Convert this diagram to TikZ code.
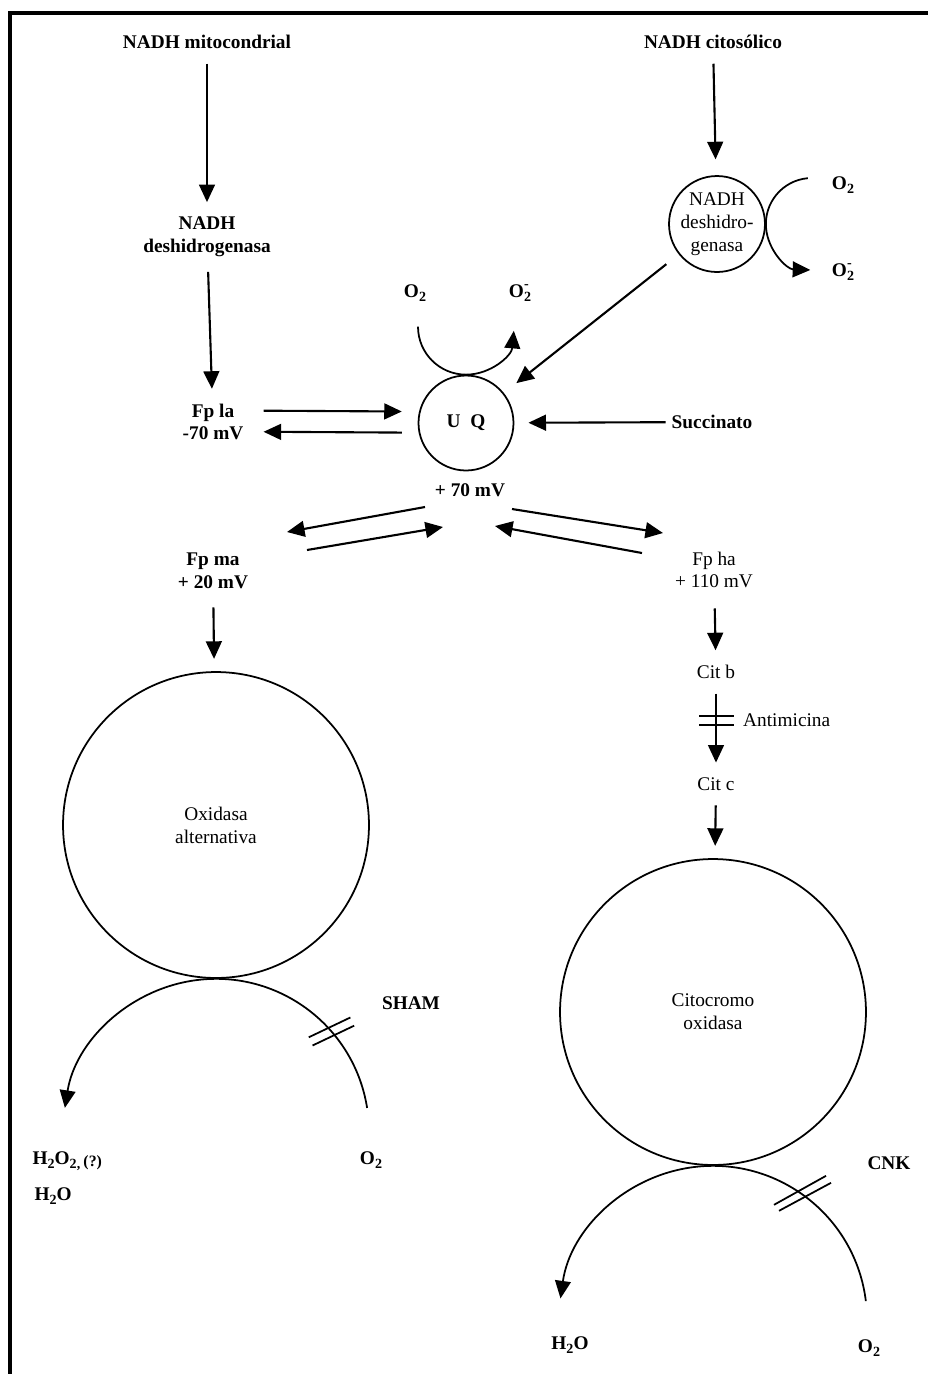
\documentclass[tikz,border=0pt]{standalone}
\usepackage{fontspec}
\setmainfont{Liberation Serif}
\usetikzlibrary{arrows.meta,positioning,calc}

\newcommand{\sbd}[1]{\raisebox{-0.4ex}{\footnotesize #1}}
\newcommand{\Odos}{O\sbd{2}}
\newcommand{\Orad}{O\rlap{\raisebox{1.05ex}{\footnotesize -}}\sbd{2}}

\begin{document}
\begin{tikzpicture}[x=0.02cm, y=-0.02cm, line width=1pt,
    font=\fontsize{11}{13}\selectfont,
    lbl/.style={font=\fontsize{11}{13}\selectfont\bfseries, align=center, inner sep=1pt},
    txt/.style={align=center, inner sep=1pt},
    enz/.style={circle, draw, line width=1pt, inner sep=0pt, align=center},
    flecha/.style={-{Triangle[length=10pt, width=9pt]}, line width=1.2pt},
    paso/.style={flecha, shorten <=7pt, shorten >=7pt},
    corte/.style={line width=1pt}]

  \useasboundingbox (0,0) rectangle (928,1374);
  \draw[line width=2.5pt] (10,1374) -- (10,13) -- (928,13);

  % via mitocondrial
  \node[lbl] (nadhm) at (207,42) {NADH mitocondrial};
  \node[lbl] (desh) at (207,237) {NADH\\deshidrogenasa};
  \node[lbl] (fpla) at (213,422) {Fp la\\-70 mV};
  \draw[paso] (nadhm) -- (desh);
  \draw[paso] (desh) -- (fpla);

  % ubiquinona
  \node[enz, minimum size=1.9cm, font=\fontsize{11}{13}\selectfont\bfseries] (uq) at (466,423) {U\enspace Q};
  \node[lbl] (mv70) at (470,490) {+ 70 mV};
  \draw[flecha, shorten <=10pt, shorten >=9pt] ([yshift=6.5pt]fpla.east) -- ([yshift=6.5pt]uq.west);
  \draw[flecha, shorten <=9pt, shorten >=10pt] ([yshift=-5.5pt]uq.west) -- ([yshift=-5.5pt]fpla.east);
  \coordinate (uqarc) at ($(uq.north)+(0,-48)$);
  \draw[flecha, line width=1pt] ($(uqarc)+(180:48)$) arc[start angle=180, end angle=5, radius=48];
  \node[lbl] (o2uq) at (415,293) {\Odos};
  \node[lbl] (o2muq) at (520,293) {\Orad};

  % via citosolica
  \node[lbl] (nadhc) at (713,42) {NADH citosólico};
  \node[enz, minimum size=1.92cm] (deshc) at (717,224) {NADH\\deshidro-\\genasa};
  \draw[paso, shorten >=9pt] (nadhc) -- (deshc);
  \coordinate (deshcarc) at ($(deshc.east)+(46,0)$);
  \draw[flecha, line width=1pt] ($(deshcarc)+(265:46)$) arc[start angle=265, end angle=92, radius=46];
  \node[lbl] (o2c) at (843,185) {\Odos};
  \node[lbl] (o2mc) at (843,272) {\Orad};
  \draw[flecha, shorten <=9pt, shorten >=9pt] (deshc) -- (uq);

  \node[lbl] (succ) at (712,422) {Succinato};
  \draw[flecha, shorten <=2pt, shorten >=8pt] (succ) -- (uq);

  % flavoproteinas
  \coordinate (ma1) at (425,507);
  \coordinate (ma2) at (287,532);
  \coordinate (ma3) at (307,550);
  \coordinate (ma4) at (443,527);
  \draw[flecha] (ma1) -- (ma2);
  \draw[flecha] (ma3) -- (ma4);
  \coordinate (ha1) at (512,509);
  \coordinate (ha2) at (663,533);
  \coordinate (ha3) at (642,553);
  \coordinate (ha4) at (495,526);
  \draw[flecha] (ha1) -- (ha2);
  \draw[flecha] (ha3) -- (ha4);

  \node[lbl] (fpma) at (213,571) {Fp ma\\+ 20 mV};
  \node[txt] (fpha) at (714,570) {Fp ha\\+ 110 mV};

  % oxidasa alternativa
  \node[enz, minimum size=6.12cm] (alt) at (216,825) {Oxidasa\\alternativa};
  \draw[paso, shorten <=9pt] (fpma) -- (alt);
  \coordinate (altc) at ($(alt.south)+(0,153)$);
  \draw[flecha, line width=1pt] ($(altc)+(-9:153)$) arc[start angle=-9, end angle=-171, radius=153];
  \coordinate (sham) at ($(altc)+(-41:153)$);
  \draw[corte] ($(sham)+(-22.7,5.8)$) -- ++(41.6,-19.8);
  \draw[corte] ($(sham)+(-18.9,14)$) -- ++(41.6,-19.8);
  \node[lbl] (shamlbl) at (411,1003) {SHAM};
  \node[lbl, anchor=west] (h2o2) at (30,1161) {H\sbd{2}O\sbd{2,}\,\raisebox{-1pt}{\small (?)}};
  \node[lbl, anchor=west] (h2oa) at (32,1196) {H\sbd{2}O};
  \node[lbl] (o2a) at (371,1160) {\Odos};

  % citocromos
  \node[txt] (citb) at (716,672) {Cit b};
  \node[txt] (citc) at (716,784) {Cit c};
  \draw[paso, shorten <=10pt] (fpha) -- (citb);
  \draw[paso] (citb) -- (citc);
  \coordinate (anti) at ($(citb)!0.43!(citc)$);
  \draw[corte] ($(anti)+(-17,-4.5)$) -- ++(35,0);
  \draw[corte] ($(anti)+(-17,4.5)$) -- ++(35,0);
  \node[txt, right=14pt of anti] (antim) {Antimicina};

  % citocromo oxidasa
  \node[enz, minimum size=6.12cm] (cox) at (713,1012) {Citocromo\\oxidasa};
  \draw[paso] (citc) -- (cox);
  \coordinate (coxc) at ($(cox.south)+(0,154)$);
  \draw[flecha, line width=1pt] ($(coxc)+(-7:154)$) arc[start angle=-7, end angle=-172, radius=154];
  \coordinate (cnk) at ($(coxc)+(-55:154)$);
  \draw[corte] ($(cnk)+(-27.3,11.1)$) -- ++(52,-29);
  \draw[corte] ($(cnk)+(-22.3,17.1)$) -- ++(52,-28);
  \node[lbl] (cnklbl) at (889,1163) {CNK};
  \node[lbl] (h2ob) at (570,1345) {H\sbd{2}O};
  \node[lbl] (o2b) at (869,1348) {\Odos};
\end{tikzpicture}
\end{document}
